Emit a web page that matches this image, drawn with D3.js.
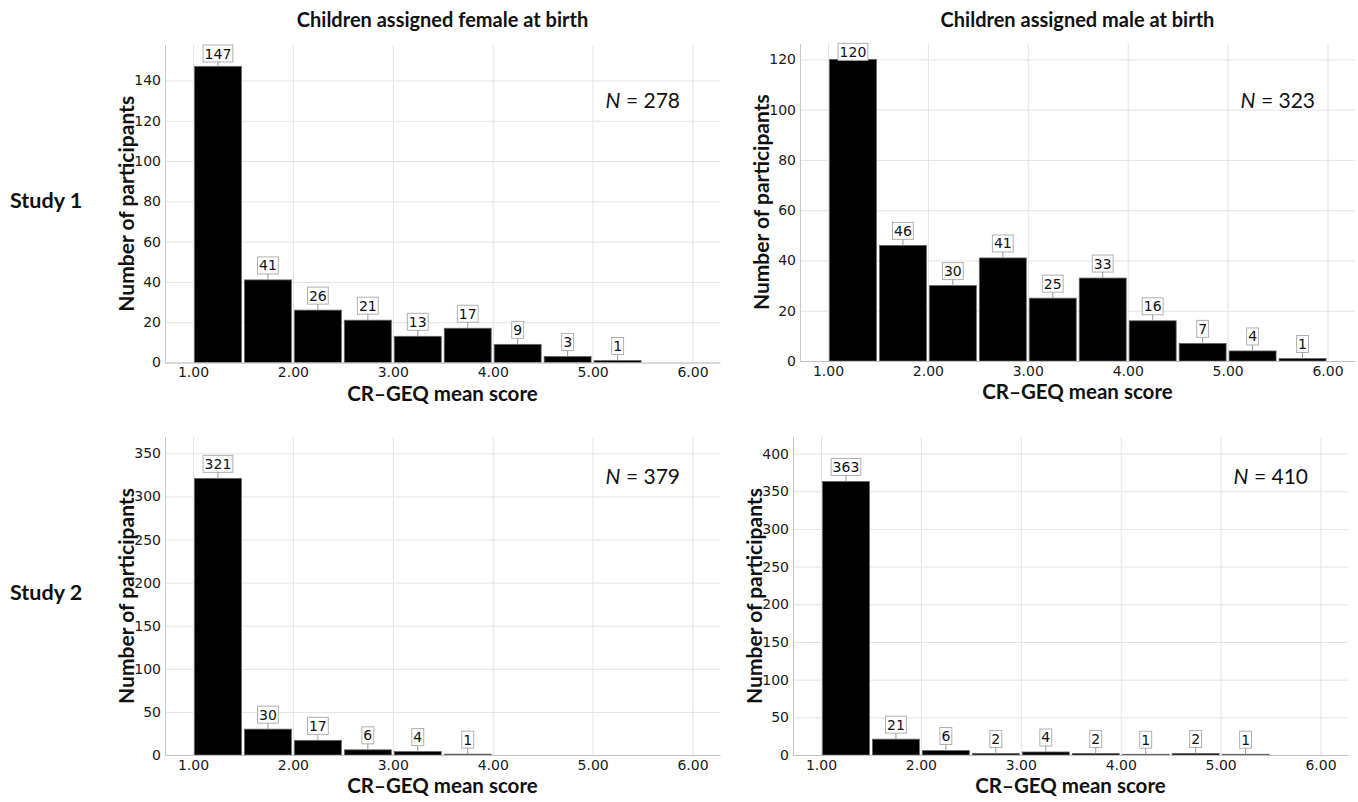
<!DOCTYPE html>
<html>
<head>
<meta charset="utf-8">
<script src="https://cdn.jsdelivr.net/npm/d3@7"></script>
<style>
  body { margin: 0; background: #fff; }
</style>
</head>
<body>
<div id="chart"></div>
<script>
// Histogram bins (lower edges), width 0.5
const binStarts = [1.0, 1.5, 2.0, 2.5, 3.0, 3.5, 4.0, 4.5, 5.0, 5.5];
const binWidth = 0.5;

// Counts per bin
const femaleStudy1 = [147, 41, 26, 21, 13, 17, 9, 3, 1];
const maleStudy1   = [120, 46, 30, 41, 25, 33, 16, 7, 4, 1];
const femaleStudy2 = [321, 30, 17, 6, 4, 1];
const maleStudy2   = [363, 21, 6, 2, 4, 2, 1, 2, 1];

const sampleSizes = [278, 323, 379, 410];
const columnTitles = ["Children assigned female at birth", "Children assigned male at birth"];
const rowTitles = ["Study 1", "Study 2"];

const xTicks = [1, 2, 3, 4, 5, 6];
const yTicksFemale1 = [0, 20, 40, 60, 80, 100, 120, 140];
const yTicksMale1   = [0, 20, 40, 60, 80, 100, 120];
const yTicksFemale2 = [0, 50, 100, 150, 200, 250, 300, 350];
const yTicksMale2   = [0, 50, 100, 150, 200, 250, 300, 350, 400];

const xLabel = "CR\u2013GEQ mean score";
const yLabel = "Number of participants";

// Panel layout (pixel boxes and axis maxima)
const panels = [
  {counts: femaleStudy1, ticks: yTicksFemale1, n: sampleSizes[0], left: 165, right: 720, top: 45,    bottom: 362.5, yMax: 157.6, nY: 108},
  {counts: maleStudy1,   ticks: yTicksMale1,   n: sampleSizes[1], left: 800, right: 1355, top: 43.3, bottom: 361,   yMax: 126.4, nY: 108},
  {counts: femaleStudy2, ticks: yTicksFemale2, n: sampleSizes[2], left: 165, right: 720, top: 437,   bottom: 755,   yMax: 369,   nY: 484},
  {counts: maleStudy2,   ticks: yTicksMale2,   n: sampleSizes[3], left: 793, right: 1348, top: 437,  bottom: 755,   yMax: 422,   nY: 484}
];

const W = 1358, H = 802;
const headFont = "Lato, 'Open Sans', sans-serif";
const tickFont = "'DejaVu Sans', Verdana, sans-serif";

const svg = d3.select("#chart")
  .append("svg")
  .attr("width", W)
  .attr("height", H)
  .style("font-family", tickFont);

// Column titles
columnTitles.forEach((t, i) => {
  const p = panels[i];
  svg.append("text")
     .attr("x", (p.left + p.right) / 2)
     .attr("y", 27)
     .attr("text-anchor", "middle")
     .style("font-family", headFont)
     .style("font-size", "20px")
     .style("font-weight", "bold")
     .style("fill", "#111")
     .text(t);
});

// Row titles
rowTitles.forEach((t, i) => {
  const p = panels[i * 2];
  svg.append("text")
     .attr("x", 10)
     .attr("y", (p.top + p.bottom) / 2 + 4)
     .style("font-family", headFont)
     .style("font-size", "21.5px")
     .style("font-weight", "bold")
     .style("fill", "#111")
     .text(t);
});

panels.forEach(p => {
  const x = d3.scaleLinear().domain([0.72, 6.275]).range([p.left, p.right]);
  const y = d3.scaleLinear().domain([0, p.yMax]).range([p.bottom, p.top]);
  const g = svg.append("g");

  // Horizontal gridlines
  g.append("g")
   .attr("transform", `translate(${p.left},0)`)
   .call(d3.axisLeft(y).tickValues(p.ticks).tickSize(-(p.right - p.left)).tickFormat(""))
   .call(a => a.select(".domain").remove())
   .selectAll("line")
   .attr("stroke", "#e3e3e3");

  // Vertical gridlines
  g.append("g")
   .attr("transform", `translate(0,${p.bottom})`)
   .call(d3.axisBottom(x).tickValues(xTicks).tickSize(-(p.bottom - p.top)).tickFormat(""))
   .call(a => a.select(".domain").remove())
   .selectAll("line")
   .attr("stroke", "#e3e3e3");

  // Bars
  const data = p.counts.map((c, i) => ({x0: binStarts[i], v: c}));
  g.selectAll(".bar")
   .data(data)
   .enter()
   .append("rect")
   .attr("x", d => x(d.x0) + 1.5)
   .attr("width", d => x(d.x0 + binWidth) - x(d.x0) - 3)
   .attr("y", d => y(d.v))
   .attr("height", d => y(0) - y(d.v))
   .attr("fill", "#000")
   .attr("stroke", "#666")
   .attr("stroke-width", 0.8);

  // Y axis
  g.append("g")
   .attr("transform", `translate(${p.left},0)`)
   .call(d3.axisLeft(y).tickValues(p.ticks).tickSize(0).tickPadding(4).tickFormat(d3.format("d")))
   .call(a => a.select(".domain").attr("stroke", "#c8c8c8"))
   .selectAll("text")
   .style("font-family", tickFont)
   .style("font-size", "14px")
   .style("fill", "#1a1a1a");

  // X axis
  g.append("g")
   .attr("transform", `translate(0,${p.bottom})`)
   .call(d3.axisBottom(x).tickValues(xTicks).tickSize(0).tickPadding(5).tickFormat(d3.format(".2f")))
   .call(a => a.select(".domain").attr("stroke", "#c0c0c0"))
   .selectAll("text")
   .style("font-family", tickFont)
   .style("font-size", "14px")
   .style("fill", "#1a1a1a");

  // Value labels with boxes
  data.forEach(d => {
    const cx = x(d.x0 + binWidth / 2);
    const barTop = y(d.v);
    const boxH = 17;
    let boxTop = barTop - 6 - boxH;
    if (boxTop < p.top) boxTop = p.top;
    const lg = g.append("g");
    const rect = lg.append("rect");
    const txt = lg.append("text")
      .attr("x", cx)
      .attr("y", boxTop + 13.5)
      .attr("text-anchor", "middle")
      .style("font-family", tickFont)
      .style("font-size", "14px")
      .style("fill", "#111")
      .text(d.v);
    const tw = txt.node().getComputedTextLength();
    rect.attr("x", cx - tw / 2 - 1.5)
        .attr("y", boxTop)
        .attr("width", tw + 3)
        .attr("height", boxH)
        .attr("fill", "#fff")
        .attr("stroke", "#b0b0b0")
        .attr("stroke-width", 1);
    if (barTop - (boxTop + boxH) > 0.5) {
      lg.append("line")
        .attr("x1", cx).attr("x2", cx)
        .attr("y1", boxTop + boxH).attr("y2", barTop)
        .attr("stroke", "#999")
        .attr("stroke-width", 1);
    }
  });

  // N annotation
  const nText = g.append("text")
    .attr("x", p.right - 40)
    .attr("y", p.nY)
    .attr("text-anchor", "end")
    .style("font-family", headFont)
    .style("font-size", "21px")
    .style("fill", "#111");
  nText.append("tspan").style("font-style", "italic").text("N");
  nText.append("tspan").text(" = " + p.n);

  // Axis titles
  g.append("text")
   .attr("x", (p.left + p.right) / 2)
   .attr("y", p.bottom + 38)
   .attr("text-anchor", "middle")
   .style("font-family", headFont)
   .style("font-size", "20.5px")
   .style("font-weight", "bold")
   .style("fill", "#111")
   .text(xLabel);

  g.append("text")
   .attr("transform", `translate(${p.left - 31},${(p.top + p.bottom) / 2}) rotate(-90)`)
   .attr("text-anchor", "middle")
   .style("font-family", headFont)
   .style("font-size", "21px")
   .style("font-weight", "bold")
   .style("fill", "#111")
   .text(yLabel);
});
</script>
</body>
</html>
